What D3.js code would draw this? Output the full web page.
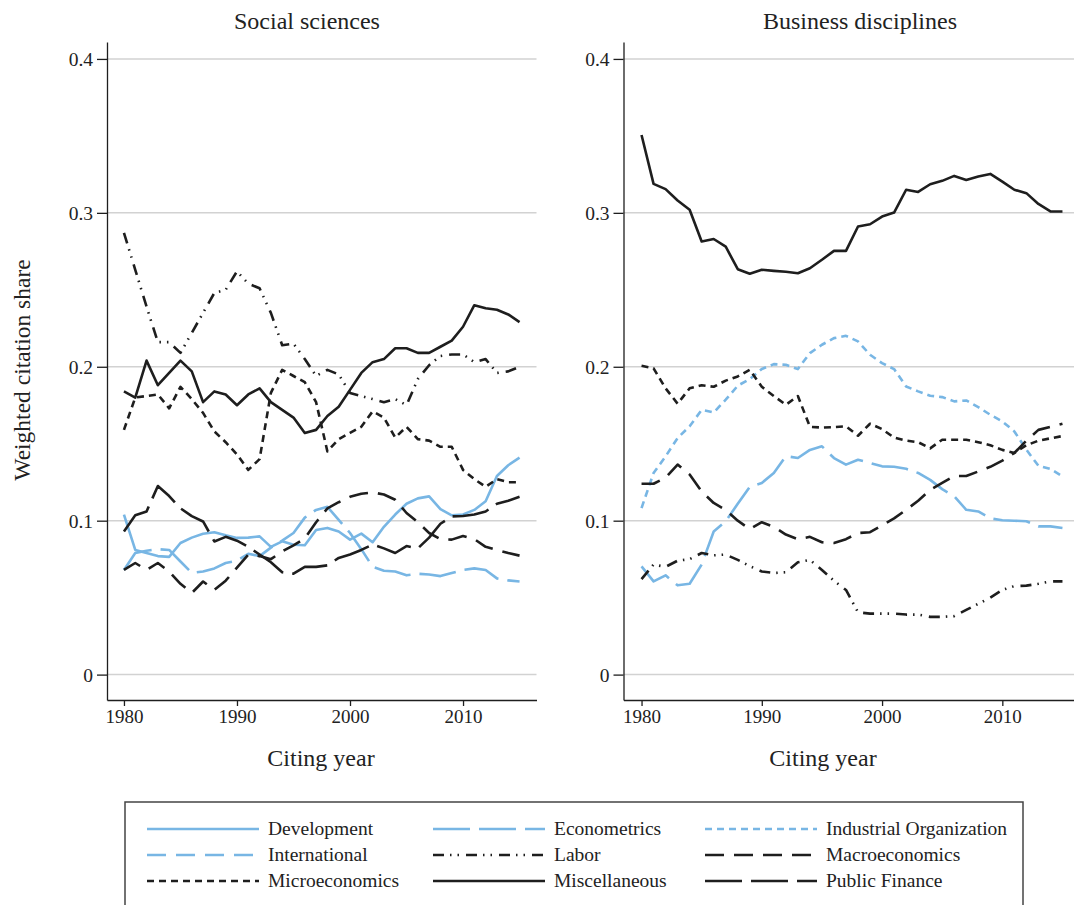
<!DOCTYPE html>
<html><head><meta charset="utf-8">
<script src="https://cdn.jsdelivr.net/npm/d3@7"></script>
<style>
html,body{margin:0;padding:0;background:#fff;}
svg text{font-family:"Liberation Serif","Times New Roman",serif;fill:#222;}
</style></head>
<body><svg id="chart" width="1074" height="905"></svg>
<script>
// ---------- data ----------
const years = [1980,1981,1982,1983,1984,1985,1986,1987,1988,1989,1990,1991,1992,1993,1994,1995,1996,1997,1998,1999,2000,2001,2002,2003,2004,2005,2006,2007,2008,2009,2010,2011,2012,2013,2014,2015];
const yTicks = [0, 0.1, 0.2, 0.3, 0.4];
const xTicks = [1980, 1990, 2000, 2010];
const panelTitles = ["Social sciences", "Business disciplines"];
const legendNames = ["Development","Econometrics","Industrial Organization","International","Labor","Macroeconomics","Microeconomics","Miscellaneous","Public Finance"];

// Social sciences
const socDevelopment = [0.104,0.081,0.079,0.077,0.0765,0.0855,0.089,0.0915,0.0925,0.0905,0.0888,0.089,0.0898,0.083,0.0866,0.0844,0.084,0.094,0.0953,0.093,0.0877,0.0916,0.086,0.096,0.104,0.111,0.1145,0.1158,0.1075,0.1035,0.104,0.107,0.1126,0.129,0.136,0.141];
const socEconometrics = [0.068,0.079,0.0805,0.0815,0.081,0.0735,0.066,0.067,0.069,0.0725,0.074,0.0785,0.077,0.0825,0.087,0.092,0.102,0.107,0.109,0.1005,0.092,0.0815,0.070,0.0675,0.067,0.0645,0.0655,0.065,0.064,0.066,0.068,0.069,0.068,0.0625,0.0612,0.0605];
const socLabor = [0.287,0.263,0.239,0.216,0.216,0.209,0.222,0.235,0.248,0.250,0.262,0.254,0.251,0.235,0.214,0.215,0.205,0.194,0.198,0.195,0.183,0.181,0.179,0.177,0.179,0.175,0.192,0.201,0.207,0.208,0.208,0.203,0.205,0.196,0.197,0.200];
const socMacro = [0.068,0.0725,0.068,0.0725,0.067,0.059,0.053,0.0605,0.055,0.061,0.0695,0.078,0.077,0.075,0.080,0.084,0.0885,0.099,0.108,0.112,0.1155,0.1175,0.1184,0.117,0.1136,0.105,0.099,0.092,0.088,0.0877,0.090,0.088,0.083,0.081,0.079,0.0773];
const socMicro = [0.159,0.180,0.181,0.182,0.173,0.187,0.179,0.170,0.158,0.151,0.143,0.133,0.140,0.183,0.198,0.194,0.190,0.177,0.145,0.153,0.157,0.161,0.171,0.167,0.154,0.161,0.153,0.152,0.148,0.148,0.133,0.127,0.122,0.127,0.125,0.125];
const socMisc = [0.184,0.180,0.204,0.188,0.196,0.204,0.197,0.177,0.184,0.182,0.175,0.182,0.186,0.177,0.172,0.167,0.157,0.159,0.168,0.174,0.185,0.196,0.203,0.205,0.212,0.212,0.209,0.209,0.213,0.217,0.226,0.240,0.238,0.237,0.234,0.229];
const socPublicFinance = [0.093,0.1035,0.106,0.1225,0.116,0.108,0.103,0.0995,0.0865,0.0895,0.087,0.083,0.078,0.073,0.0665,0.0656,0.070,0.070,0.071,0.0758,0.078,0.081,0.0845,0.082,0.079,0.0835,0.082,0.089,0.098,0.1028,0.103,0.104,0.106,0.111,0.113,0.1155];

// Business disciplines
const busEconometrics = [0.0703,0.0606,0.0645,0.058,0.059,0.0715,0.093,0.0996,0.111,0.122,0.1245,0.131,0.142,0.1407,0.146,0.1483,0.1407,0.1364,0.1396,0.1375,0.1353,0.135,0.1337,0.131,0.1265,0.1205,0.1158,0.1071,0.106,0.1015,0.1003,0.100,0.0996,0.0963,0.0963,0.0952];
const busIO = [0.1082,0.131,0.1418,0.1537,0.1613,0.172,0.1703,0.1786,0.1877,0.192,0.1985,0.2017,0.2013,0.1985,0.2089,0.2143,0.2186,0.2201,0.2165,0.2078,0.2024,0.1985,0.1872,0.184,0.1812,0.1803,0.1775,0.1781,0.1738,0.1688,0.1645,0.158,0.1461,0.1357,0.1336,0.1288];
const busLabor = [0.062,0.0715,0.070,0.074,0.075,0.079,0.0775,0.078,0.0745,0.0705,0.067,0.066,0.0665,0.073,0.0745,0.068,0.061,0.055,0.0405,0.0396,0.0396,0.0396,0.039,0.039,0.0375,0.0375,0.038,0.042,0.046,0.050,0.055,0.0575,0.0578,0.059,0.0606,0.0606];
const busMacro = [0.124,0.124,0.128,0.1365,0.130,0.119,0.1115,0.107,0.100,0.0945,0.099,0.096,0.091,0.088,0.0895,0.086,0.0855,0.088,0.092,0.0925,0.097,0.1015,0.107,0.113,0.120,0.1245,0.129,0.129,0.132,0.135,0.139,0.144,0.152,0.159,0.161,0.163];
const busMicro = [0.2006,0.199,0.186,0.176,0.186,0.188,0.187,0.191,0.1937,0.198,0.187,0.181,0.1753,0.181,0.161,0.1605,0.1608,0.1613,0.1552,0.163,0.1595,0.154,0.152,0.151,0.147,0.1526,0.1526,0.1526,0.151,0.149,0.146,0.144,0.149,0.152,0.1535,0.155];
const busMisc = [0.3506,0.3188,0.3154,0.308,0.302,0.2814,0.283,0.278,0.2634,0.2604,0.263,0.2623,0.2617,0.2608,0.264,0.2695,0.2753,0.2753,0.2911,0.2926,0.2976,0.3002,0.315,0.3136,0.3186,0.3208,0.324,0.3214,0.3236,0.3253,0.3203,0.315,0.3128,0.3058,0.3009,0.3009];

// ---------- styles ----------
const BLUE = "#78b6e4", BLACK = "#1e1e1e";
const style = {
  "Development":            {c: BLUE,  d: null},
  "Econometrics":           {c: BLUE,  d: "37,9"},
  "Industrial Organization":{c: BLUE,  d: "7,5"},
  "International":          {c: BLUE,  d: "19,10"},
  "Labor":                  {c: BLACK, d: "11,6,1.5,6,1.5,7"},
  "Macroeconomics":         {c: BLACK, d: "19,10"},
  "Microeconomics":         {c: BLACK, d: "7,5"},
  "Miscellaneous":          {c: BLACK, d: null},
  "Public Finance":         {c: BLACK, d: "37,9"}
};

const panels = [
  {title: panelTitles[0], titleX: 307, xr: [107, 536.5], labelX: 321,
   series: [["Development", socDevelopment], ["Econometrics", socEconometrics], ["Labor", socLabor],
            ["Macroeconomics", socMacro], ["Microeconomics", socMicro], ["Miscellaneous", socMisc],
            ["Public Finance", socPublicFinance]]},
  {title: panelTitles[1], titleX: 860, xr: [623.5, 1080.5], labelX: 823,
   series: [["Econometrics", busEconometrics], ["Industrial Organization", busIO], ["Labor", busLabor],
            ["Macroeconomics", busMacro], ["Microeconomics", busMicro], ["Miscellaneous", busMisc]]}
];

const svg = d3.select("#chart");
const y = d3.scaleLinear().domain([-0.0165, 0.411]).range([700, 42]);

panels.forEach(p => {
  const x = d3.scaleLinear().domain([1978.5, 2016.5]).range(p.xr);
  const g = svg.append("g");
  // gridlines
  g.selectAll("line.grid").data(yTicks).join("line")
    .attr("x1", p.xr[0]).attr("x2", p.xr[1])
    .attr("y1", d => y(d)).attr("y2", d => y(d))
    .attr("stroke", "#d2d2d2").attr("stroke-width", 1.5);
  // y axis
  const ya = g.append("g").attr("transform", `translate(${p.xr[0]},0)`)
    .call(d3.axisLeft(y).tickValues(yTicks).tickSize(10).tickSizeOuter(0)
      .tickFormat(d => d === 0 ? "0" : d3.format(".1f")(d)));
  ya.attr("font-family", null).attr("font-size", null);
  ya.select(".domain").attr("stroke", BLACK).attr("stroke-width", 1.3);
  ya.selectAll(".tick line").attr("stroke", BLACK).attr("stroke-width", 1.3);
  ya.selectAll(".tick text").attr("x", -14).attr("dy", "0.34em")
    .style("font-size", "19.5px").attr("fill", "#222");
  // x axis
  const xa = g.append("g").attr("transform", `translate(0,700)`)
    .call(d3.axisBottom(x).tickValues(xTicks).tickSize(6).tickSizeOuter(0).tickFormat(d3.format("d")));
  xa.attr("font-family", null).attr("font-size", null);
  xa.select(".domain").attr("stroke", BLACK).attr("stroke-width", 1.3);
  xa.selectAll(".tick line").attr("stroke", BLACK).attr("stroke-width", 1.3);
  xa.selectAll(".tick text").attr("y", 10).attr("dy", "0.71em")
    .style("font-size", "19px").attr("fill", "#222");
  // lines
  const line = d3.line().x((d, i) => x(years[i])).y(d => y(d));
  p.series.forEach(([name, vals]) => {
    const s = style[name];
    g.append("path").datum(vals).attr("d", line)
      .attr("fill", "none").attr("stroke", s.c).attr("stroke-width", 2.6)
      .attr("stroke-dasharray", s.d).attr("stroke-linejoin", "round");
  });
  // titles
  svg.append("text").attr("x", p.titleX).attr("y", 29).attr("text-anchor", "middle")
    .style("font-size", "24px").text(p.title);
  svg.append("text").attr("x", p.labelX).attr("y", 766).attr("text-anchor", "middle")
    .style("font-size", "24px").text("Citing year");
});

svg.append("text").attr("transform", "translate(30,370) rotate(-90)").attr("text-anchor", "middle")
  .style("font-size", "23.5px").text("Weighted citation share");

// legend
svg.append("rect").attr("x", 125).attr("y", 802).attr("width", 898).attr("height", 120)
  .attr("fill", "none").attr("stroke", "#444").attr("stroke-width", 1.5);
const colX = [147, 433, 705];
const rowY = [829, 855, 881];
legendNames.forEach((name, i) => {
  const cx = colX[i % 3], cy = rowY[Math.floor(i / 3)];
  const s = style[name];
  svg.append("line").attr("x1", cx).attr("x2", cx + 112).attr("y1", cy).attr("y2", cy)
    .attr("stroke", s.c).attr("stroke-width", 2.6).attr("stroke-dasharray", s.d);
  svg.append("text").attr("x", cx + 121).attr("y", cy + 6).style("font-size", "19.5px").text(name);
});
</script></body></html>
